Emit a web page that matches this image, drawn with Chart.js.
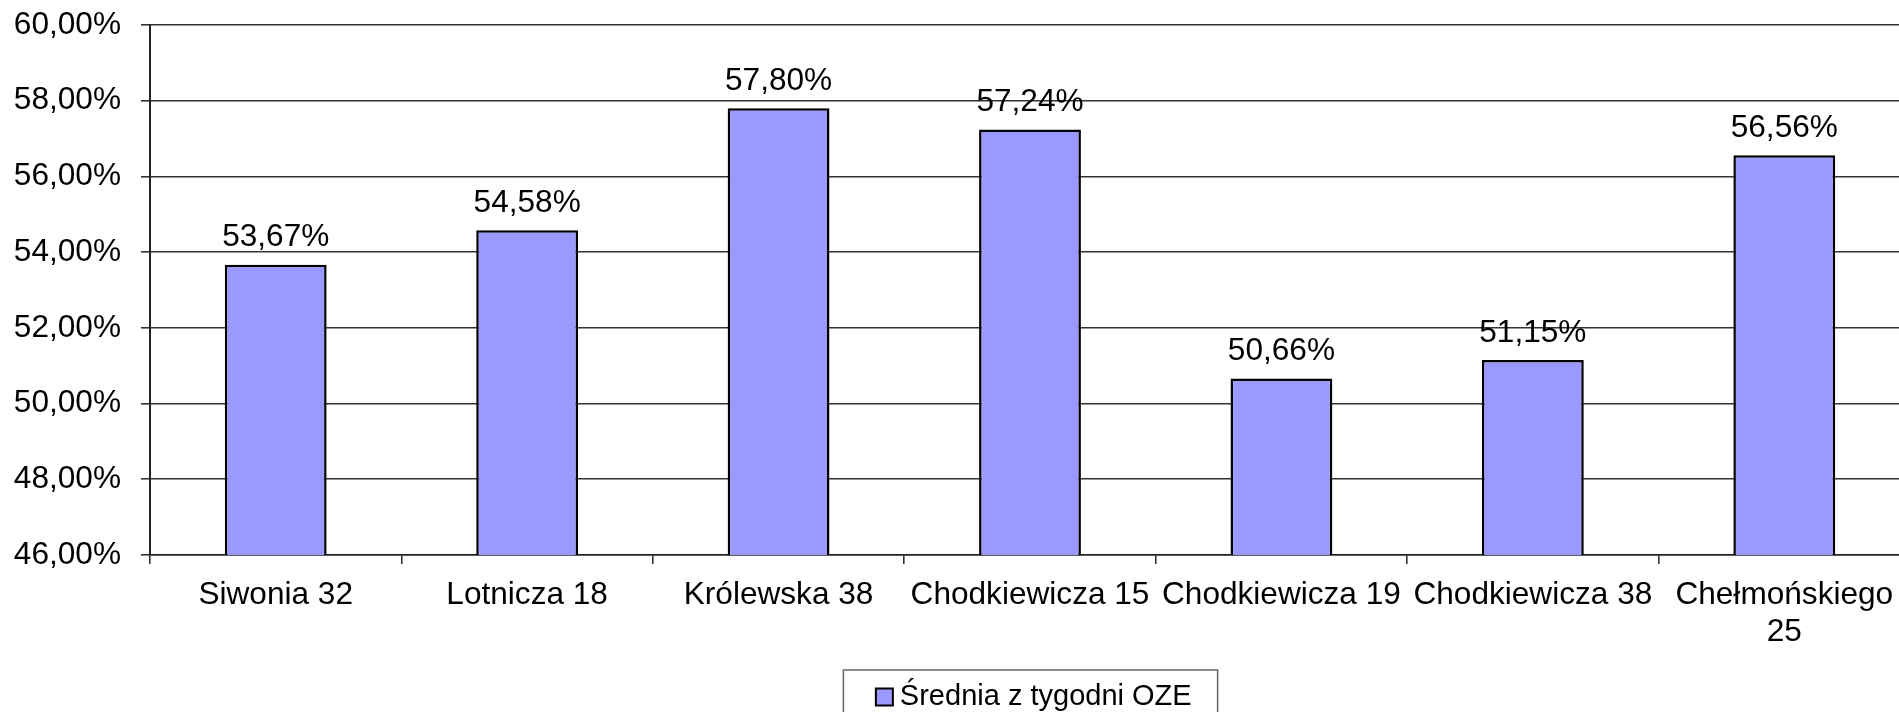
<!DOCTYPE html>
<html>
<head>
<meta charset="utf-8">
<script src="https://cdn.jsdelivr.net/npm/chart.js@4.4.1/dist/chart.umd.min.js"></script>
<style>
  html, body { margin: 0; padding: 0; background: #fff; overflow: hidden; width: 1899px; height: 712px; }
  #wrap { position: absolute; left: 0; top: 0; width: 1912px; height: 740px; }
</style>
</head>
<body>
<div id="wrap"><canvas id="c" width="1912" height="740"></canvas></div>
<script>
const categories = ["Siwonia 32", "Lotnicza 18", "Królewska 38", "Chodkiewicza 15", "Chodkiewicza 19", "Chodkiewicza 38", ["Chełmońskiego", "25"]];
const seriesName = "Średnia z tygodni OZE";
const values = [53.67, 54.58, 57.80, 57.24, 50.66, 51.15, 56.56];
const yMin = 46, yMax = 60, yStep = 2;

const FONT = "'Liberation Sans', Arial, Helvetica, sans-serif";
const BAR_COLOR = '#9999FF';
const fmt = v => v.toFixed(2).replace('.', ',') + '%';

const dataLabels = {
  id: 'dataLabels',
  afterDatasetsDraw(chart) {
    const ctx = chart.ctx;
    const meta = chart.getDatasetMeta(0);
    ctx.save();
    ctx.font = "31.6px " + FONT;
    ctx.fillStyle = '#000';
    ctx.textAlign = 'center';
    ctx.textBaseline = 'alphabetic';
    meta.data.forEach((bar, i) => {
      ctx.fillText(fmt(values[i]), bar.x, bar.y - 18.5);
    });
    ctx.restore();
  }
};

const legendFrame = {
  id: 'legendFrame',
  afterDraw(chart) {
    const lg = chart.legend;
    if (!lg || !lg.legendHitBoxes || !lg.legendHitBoxes.length) return;
    const hb = lg.legendHitBoxes[0];
    const ctx = chart.ctx;
    ctx.save();
    // frame
    ctx.strokeStyle = '#666';
    ctx.lineWidth = 1.5;
    const left = hb.left - 25, right = hb.left + hb.width + 26;
    const cy = hb.top + hb.height / 2;
    ctx.strokeRect(left, cy - 27, right - left, 120);
    // marker just before the text
    const textX = hb.left + 17 + 29 / 2;
    const mx = textX - 7 - 17;
    ctx.fillStyle = BAR_COLOR;
    ctx.fillRect(mx, cy - 8.5, 17, 17);
    ctx.strokeStyle = '#000';
    ctx.lineWidth = 2;
    ctx.strokeRect(mx, cy - 8.5, 17, 17);
    ctx.restore();
  }
};

new Chart(document.getElementById('c'), {
  type: 'bar',
  data: {
    labels: categories,
    datasets: [{
      label: seriesName,
      data: values,
      backgroundColor: BAR_COLOR,
      borderColor: '#000',
      borderWidth: 2.5,
      borderSkipped: false,
      barPercentage: 0.405,
      categoryPercentage: 1
    }]
  },
  options: {
    responsive: false,
    animation: false,
    devicePixelRatio: 1,
    layout: { padding: { top: 25, left: 0, right: 2, bottom: 18.5 } },
    plugins: {
      tooltip: { enabled: false },
      legend: {
        position: 'bottom',
        fullSize: false,
        labels: {
          boxWidth: 17,
          boxHeight: 17,
          padding: 10,
          color: '#000',
          font: { size: 29, family: FONT },
          generateLabels(chart) {
            const items = Chart.defaults.plugins.legend.labels.generateLabels(chart);
            items.forEach(it => {
              it.fillStyle = 'rgba(0,0,0,0)';
              it.strokeStyle = 'rgba(0,0,0,0)';
              it.lineWidth = 0;
            });
            return items;
          }
        }
      }
    },
    scales: {
      x: {
        type: 'category',
        offset: true,
        grid: { offset: true, drawOnChartArea: false, drawTicks: true, tickLength: 9, color: '#333', lineWidth: 1.6 },
        border: { display: true, color: '#222', width: 1.6 },
        ticks: {
          color: '#000',
          padding: 13,
          maxRotation: 0,
          minRotation: 0,
          autoSkip: false,
          font: { size: 31.6, family: FONT, lineHeight: 1.17 }
        },
        afterFit(s) { s.height = 117.5; }
      },
      y: {
        min: yMin,
        max: yMax,
        grid: { color: '#333', lineWidth: 1.6, tickLength: 9 },
        border: { display: true, color: '#222', width: 2 },
        ticks: {
          stepSize: yStep,
          color: '#000',
          padding: 20,
          font: { size: 31.6, family: FONT },
          callback: v => fmt(v)
        },
        afterFit(s) { s.width = 150; s.paddingTop = 0; s.paddingBottom = 0; }
      }
    }
  },
  plugins: [dataLabels, legendFrame]
});
</script>
</body>
</html>
